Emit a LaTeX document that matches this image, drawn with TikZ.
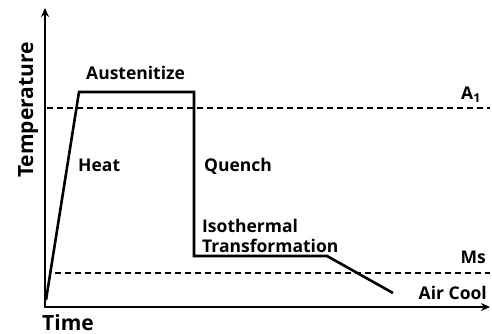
\documentclass[tikz,border=0pt]{standalone}
\usepackage{fontspec}
\setmainfont{Open Sans}
\usetikzlibrary{arrows.meta}
\tikzset{
  lbl/.style={font=\bfseries\fontsize{17.5}{19}\selectfont, inner sep=0pt},
  axlbl/.style={font=\bfseries\fontsize{21}{23}\selectfont, inner sep=0pt},
  axis/.style={line width=2.8pt, -{Stealth[length=9pt,width=8pt]}},
  curve/.style={line width=2.6pt, line join=miter},
  level/.style={line width=2.2pt, dash pattern=on 6pt off 4pt},
}
\begin{document}
\begin{tikzpicture}[x=1pt,y=-1pt]
\useasboundingbox (0,0) rectangle (492,334);
% axes
\coordinate (o) at (45,307);
\coordinate (ytop) at (45,8);
\coordinate (xend) at (490,307);
\draw[axis] ([yshift=-1.4pt]o) -- (ytop);
\draw[axis] ([xshift=-1.4pt]o) -- (xend);
% dashed levels
\coordinate (a1s) at (47,108);
\coordinate (a1e) at (490,108);
\coordinate (mss) at (55,273);
\coordinate (mse) at (490,273);
\draw[level] (a1s) -- (a1e);
\draw[level] (mss) -- (mse);
% curve
\coordinate (p0) at (46,300);
\coordinate (p1) at (79,92);
\coordinate (p2) at (194,92);
\coordinate (p3) at (194,256);
\coordinate (p4) at (327,256);
\coordinate (p5) at (393,293);
\draw[curve] (p0) -- (p1) -- (p2) -- (p3) -- (p4) -- (p5);
% labels
\node[axlbl, rotate=90, anchor=base] (temp) at (33,110) {Temperature};
\node[axlbl, anchor=base west] (time) at (42,330) {Time};
\node[lbl, anchor=base west] (aus) at (86,80) {Austenitize};
\node[lbl, anchor=base west] (heat) at (78,171) {Heat};
\node[lbl, anchor=base west] (quench) at (204,171) {Quench};
\node[lbl, anchor=base west] (iso) at (202,232) {Isothermal};
\node[lbl, anchor=base west] (trans) at (202,252) {Transformation};
\node[lbl, anchor=base east] (ms) at (486,263) {Ms};
\node[lbl, anchor=base east] (air) at (487,299) {Air Cool};
\node[lbl, anchor=base west] (a1) at (461,100) {A\textsubscript{1}};
\end{tikzpicture}
\end{document}
